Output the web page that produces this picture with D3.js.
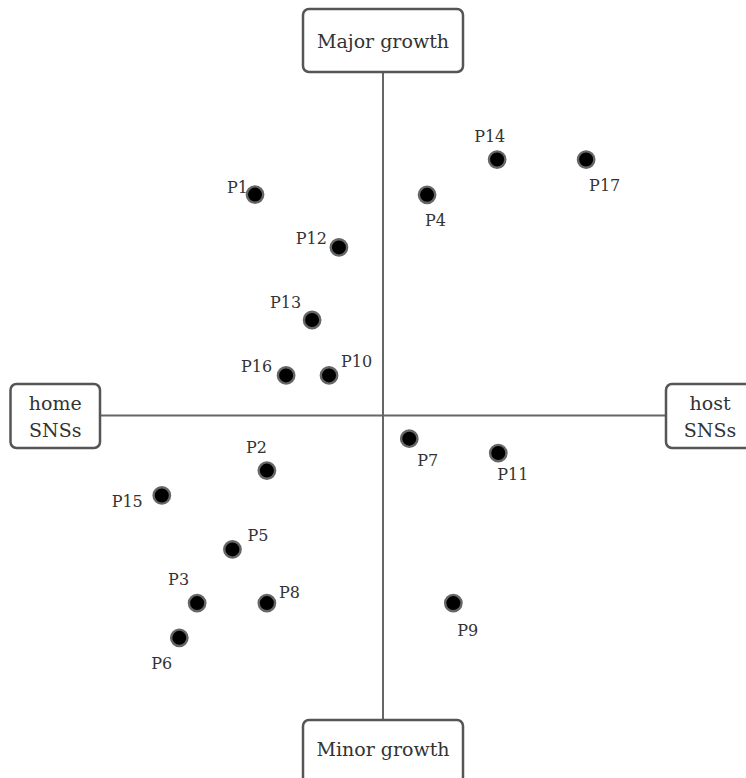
<!DOCTYPE html>
<html>
<head>
<meta charset="utf-8">
<script src="https://cdn.jsdelivr.net/npm/d3@7"></script>
<style>
  html, body { margin: 0; padding: 0; background: #fff; }
  svg { display: block; }
  text { font-family: "DejaVu Serif", "Liberation Serif", serif; fill: #333; }
</style>
</head>
<body>
<svg id="chart" width="746" height="778"></svg>
<script>
// ---- data (x: home SNSs (-) ... host SNSs (+); y: minor (-) ... major growth (+)) ----
const participants = ["P1","P12","P13","P16","P10","P4","P14","P17","P7","P11","P9","P2","P15","P5","P3","P8","P6"];
const xValues = [-4.53,-1.56,-2.51,-3.43,-1.91, 1.56, 4.04, 7.19, 0.93, 4.08, 2.49,-4.11,-7.83,-5.33,-6.58,-4.11,-7.21];
const yValues = [ 7.82, 5.95, 3.38, 1.42, 1.42, 7.81, 9.06, 9.06,-0.82,-1.33,-6.64,-1.95,-2.83,-4.74,-6.64,-6.64,-7.87];
const axisLabels = { top: ["Major growth"], bottom: ["Minor growth"], left: ["home", "SNSs"], right: ["host", "SNSs"] };

// label placement relative to each dot (layout, not data)
const labelLayout = {
  P1:[-7,-2,"end"], P12:[-12,-3,"end"], P13:[-11,-12,"end"], P16:[-14,-3,"end"], P10:[12,-8,"start"],
  P4:[-2,31,"start"], P14:[-23,-18,"start"], P17:[3,31,"start"], P7:[8,27,"start"], P11:[-1,27,"start"],
  P9:[4,33,"start"], P2:[-21,-18,"start"], P15:[-19,12,"end"], P5:[15,-8,"start"], P3:[-29,-18,"start"],
  P8:[12,-5,"start"], P6:[-28,31,"start"]
};

const svg = d3.select("#chart");
const x = d3.scaleLinear().domain([-10, 10]).range([100.5, 665.5]);
const y = d3.scaleLinear().domain([-10, 10]).range([698, 133]);
const cx = x(0), cy = y(0);

const lineColor = "#666", boxColor = "#555";
const fontSize = 18;

// axes lines
svg.append("line").attr("x1", cx).attr("x2", cx).attr("y1", 72).attr("y2", 720)
  .attr("stroke", lineColor).attr("stroke-width", 2);
svg.append("line").attr("x1", 100).attr("x2", 666).attr("y1", cy).attr("y2", cy)
  .attr("stroke", lineColor).attr("stroke-width", 2);

// boxes
const boxes = [
  { key: "top", x0: 303, y0: 9, w: 160, h: 63, lines: axisLabels.top, base: 48 },
  { key: "bottom", x0: 303, y0: 720, w: 160, h: 63, lines: axisLabels.bottom, base: 756 },
  { key: "left", x0: 10.5, y0: 384, w: 89.5, h: 64, lines: axisLabels.left, base: 410 },
  { key: "right", x0: 666, y0: 384, w: 90, h: 64, lines: axisLabels.right, base: 410 }
];
boxes.forEach(b => {
  svg.append("rect").attr("x", b.x0).attr("y", b.y0).attr("width", b.w).attr("height", b.h)
    .attr("rx", 6).attr("ry", 6).attr("fill", "#fff").attr("stroke", boxColor).attr("stroke-width", 2.5);
  const t = svg.append("text").attr("text-anchor", "middle").attr("font-size", fontSize + 1);
  b.lines.forEach((l, i) => {
    t.append("tspan").attr("x", b.x0 + b.w / 2 - (b.key === "right" ? 1 : 0)).attr("y", b.base + i * 27).text(l);
  });
});

// points
const pts = participants.map((p, i) => ({ name: p, xv: xValues[i], yv: yValues[i] }));
svg.append("g").selectAll("circle").data(pts).join("circle")
  .attr("cx", d => x(d.xv)).attr("cy", d => y(d.yv)).attr("r", 8.2)
  .attr("fill", "#000").attr("stroke", "#666").attr("stroke-width", 2.4);

svg.append("g").selectAll("text").data(pts).join("text")
  .attr("x", d => x(d.xv) + labelLayout[d.name][0])
  .attr("y", d => y(d.yv) + labelLayout[d.name][1])
  .attr("text-anchor", d => labelLayout[d.name][2])
  .attr("font-size", 16)
  .text(d => d.name);
</script>
</body>
</html>
